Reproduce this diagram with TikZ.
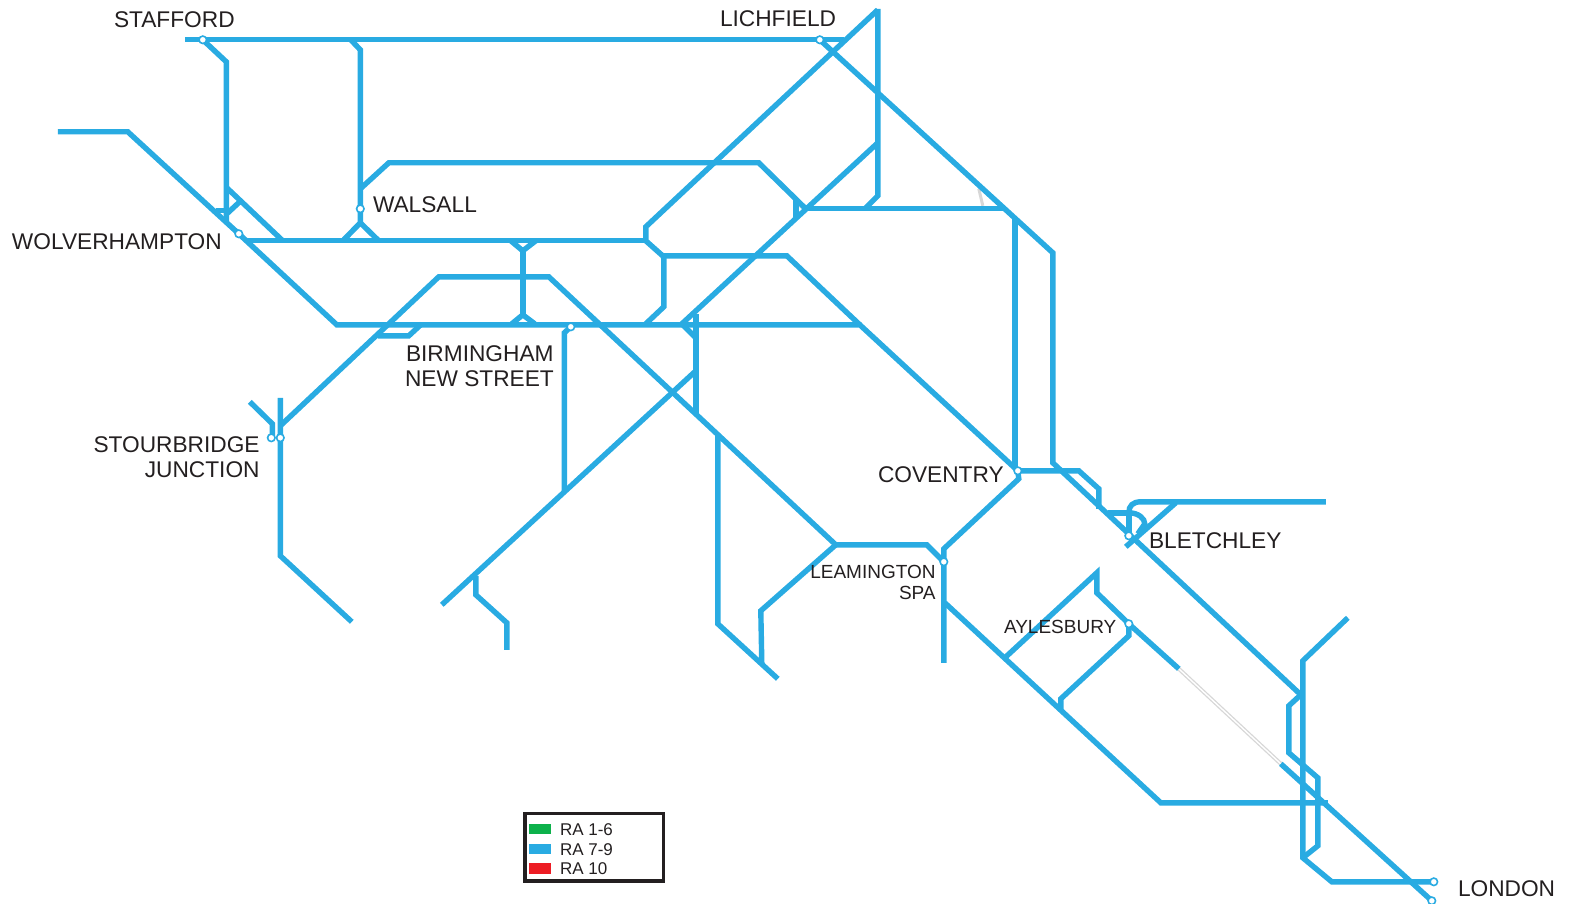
\documentclass[tikz,border=0pt]{standalone}
\usepackage{fontspec}
\setmainfont{Liberation Sans}
\usetikzlibrary{backgrounds}
\begin{document}
\begin{tikzpicture}[x=1pt, y=-1pt]

	\definecolor{my_blue}{RGB}{41,171,226}
	\definecolor{my_green}{RGB}{13,177,75}
	\definecolor{my_red}{RGB}{237,28,36}
	\definecolor{my_gray}{RGB}{215,215,215}
	\definecolor{my_text}{RGB}{35,31,32}

	\tikzstyle{line} = [draw=my_blue, line width=5.4pt]
	\tikzstyle{disused} = [draw=my_gray, line width=3pt]
	\tikzstyle{station} = [circle, draw=my_blue, fill=white, line width=1.6pt, minimum size=7.5pt, inner sep=0pt]
	\tikzstyle{biglabel} = [text=my_text, inner sep=0pt, font=\fontsize{22.7}{25.5}\selectfont]
	\tikzstyle{smalllabel} = [text=my_text, inner sep=0pt, font=\fontsize{19}{21}\selectfont]
	\tikzstyle{legendlabel} = [text=my_text, inner sep=0pt, anchor=base west, font=\fontsize{17}{20}\selectfont]
	\tikzstyle{swatch} = [minimum width=22pt, minimum height=10.5pt, inner sep=0pt]

	\useasboundingbox (0,0) rectangle (1569,904);

	\begin{scope}[xshift=0.8pt, yshift=-0.8pt]

	% junctions and free ends
	\coordinate (stafford_end) at (184,39);
	\coordinate (lichfield_join) at (843,39);
	\coordinate (apex) at (877,9);
	\coordinate (wolves_end) at (57,131);
	\coordinate (row_start) at (245,240);
	\coordinate (row_end) at (645,240);
	\coordinate (main_join) at (859,324);
	\coordinate (delta) at (805,208);
	\coordinate (north_join) at (1003,208);
	\coordinate (bham_south) at (563.5,490);
	\coordinate (low_diag) at (694,371);
	\coordinate (low_end) at (441,604);
	\coordinate (leam_west) at (835,544);
	\coordinate (west_bend) at (279.5,425);
	\coordinate (south_main) at (944,602);
	\coordinate (ayl_gap_a) at (1178,668);
	\coordinate (ayl_gap_b) at (1280,763);
	\coordinate (wcml_join) at (1300,694);
	\coordinate (london_cross) at (1302,857);
	\coordinate (blet_top) at (1128,512);

	% stations
	\node [station] (stafford) at (202,39) {};
	\node [station] (lichfield) at (819,39) {};
	\node [station] (walsall) at (359.5,208) {};
	\node [station] (wolverhampton) at (238,233) {};
	\node [station] (birmingham) at (570,326) {};
	\node [station] (stourbridge_a) at (270.5,437) {};
	\node [station] (stourbridge_b) at (279.5,437) {};
	\node [station] (coventry) at (1017,470) {};
	\node [station] (bletchley) at (1128,535) {};
	\node [station] (leamington) at (943,561) {};
	\node [station] (aylesbury) at (1128,623) {};
	\node [station] (london_a) at (1433,881) {};
	\node [station] (london_b) at (1431,900) {};

	\begin{scope}[on background layer]
	% closed sections
	\draw [disused, line width=4pt] (ayl_gap_a) -- (ayl_gap_b);
	\draw [draw=white, line width=1.4pt] (ayl_gap_a) -- (ayl_gap_b);
	\draw [disused] (978,188) -- (982,205);
	\draw [disused] (793,200) -- (803,208);
	% tracks
	\draw [line] (stafford_end) -- (stafford.center) -- (lichfield.center) -- (lichfield_join);
	\draw [line] (stafford.center) -- (225.5,61) -- (225.5,220);
	\draw [line] (215,210) -- (226,210);
	\draw [line] (240,200) -- (226,213);
	\draw [line] (226,187) -- (282,240);
	\draw [line] (350,39) -- (359.5,49) -- (walsall.center) -- (359.5,222) -- (342,240);
	\draw [line] (359.5,222) -- (378,240);
	\draw [line] (359.5,188) -- (388,162) -- (758,162) -- (delta);
	\draw [line] (apex) -- (645,226) -- (row_end) -- (663,256) -- (663,306) -- (645,323);
	\draw [line] (877,8) -- (877,195) -- (864,208);
	\draw [line] (877,142) -- (680,324);
	\draw [line] (795,199) -- (795,218);
	\draw [line] (delta) -- (north_join);
	\draw [line] (lichfield.center) -- (1052,252) -- (1052,462) -- (wcml_join);
	\draw [line] (1014,216) -- (1014,468);
	\draw [line] (wolves_end) -- (127,131) -- (wolverhampton.center) -- (336,324) -- (main_join) -- (coventry.center);
	\draw [line] (row_start) -- (row_end);
	\draw [line] (660,255) -- (786,255) -- (main_join);
	\draw [line] (510,240) -- (522,250) -- (535,240);
	\draw [line] (522,248) -- (522,314);
	\draw [line] (511,323) -- (522,314) -- (534,323);
	\draw [line] (birmingham.center) -- (563.5,332) -- (bham_south);
	\draw [line] (377,335) -- (408,335) -- (421,323);
	\draw [line] (west_bend) -- (438,276) -- (548,276) -- (leam_west) -- (926,544) -- (leamington.center);
	\draw [line] (279.5,397) -- (279.5,555) -- (351,621);
	\draw [line] (249,401) -- (271.5,423) -- (271.5,437);
	\draw [line] (695,313) -- (695,413);
	\draw [line] (682,324) -- (695,337);
	\draw [line] (low_diag) -- (low_end);
	\draw [line] (475,575) -- (475,594) -- (506,622) -- (506,649);
	\draw [line] (717,433) -- (717,623) -- (777,678);
	\draw [line] (leam_west) -- (760,610) -- (761,662);
	\draw [line] (coventry.center) -- (1018,478) -- (943,548) -- (943,662);
	\draw [line] (south_main) -- (1160,802) -- (1327,802);
	\draw [line] (1004,657) -- (1096,572) -- (1096,592) -- (aylesbury.center) -- (ayl_gap_a);
	\draw [line] (aylesbury.center) -- (1128,635) -- (1060,698) -- (1060,710);
	\draw [line] (coventry.center) -- (1078,470) -- (1098,488) -- (1098,508);
	\draw [line] (1107,512) -- (blet_top) -- (bletchley.center);
	\draw [line] (blet_top) .. controls (1138,512) and (1144,518) .. (1144,523) -- (1137,533);
	\draw [line] (blet_top) .. controls (1128,505) and (1132,501) .. (1140,501) -- (1325,501);
	\draw [line] (1175,502) -- (1125,546);
	\draw [line] (ayl_gap_b) -- (london_b.center);
	\draw [line] (1347,617) -- (1302,660) -- (london_cross) -- (1331,881) -- (london_a.center);
	\draw [line] (wcml_join) -- (1288,705) -- (1288,752) -- (1317,777) -- (1317,845) -- (london_cross);
	\end{scope}

	% labels
	\node [biglabel, anchor=base west] (stafford_label) at (113,27) {STAFFORD};
	\node [biglabel, anchor=base west] (lichfield_label) at (719,26) {LICHFIELD};
	\node [biglabel, anchor=base west] (walsall_label) at (372,212) {WALSALL};
	\node [biglabel, anchor=base west] (wolverhampton_label) at (11,249) {WOLVERHAMPTON};
	\node [biglabel, anchor=base west] (birmingham_label) at (405,361) {BIRMINGHAM};
	\node [biglabel, anchor=base west] (newstreet_label) at (404,386) {NEW STREET};
	\node [biglabel, anchor=base east] (stourbridge_label) at (259,452) {STOURBRIDGE};
	\node [biglabel, anchor=base east] (junction_label) at (259,477) {JUNCTION};
	\node [biglabel, anchor=base west] (coventry_label) at (877,482) {COVENTRY};
	\node [biglabel, anchor=base west] (bletchley_label) at (1148,548) {BLETCHLEY};
	\node [smalllabel, anchor=base east] (leamington_label) at (935,578) {LEAMINGTON};
	\node [smalllabel, anchor=base east] (spa_label) at (935,599) {SPA};
	\node [smalllabel, anchor=base west] (aylesbury_label) at (1003,633) {AYLESBURY};
	\node [biglabel, anchor=base west] (london_label) at (1457,896) {LONDON};

	% legend
	\draw [draw=my_text, line width=3.4pt] (524,812.5) rectangle (662.5,880);
	\node [swatch, fill=my_green] (ra_low) at (539.5,828) {};
	\node [swatch, fill=my_blue] (ra_mid) at (539.5,848) {};
	\node [swatch, fill=my_red] (ra_high) at (539.5,867.5) {};
	\node [legendlabel] (ra_low_label) at (559,835) {RA 1-6};
	\node [legendlabel] (ra_mid_label) at (559,855) {RA 7-9};
	\node [legendlabel] (ra_high_label) at (559,874) {RA 10};

	\end{scope}

\end{tikzpicture}
\end{document}
